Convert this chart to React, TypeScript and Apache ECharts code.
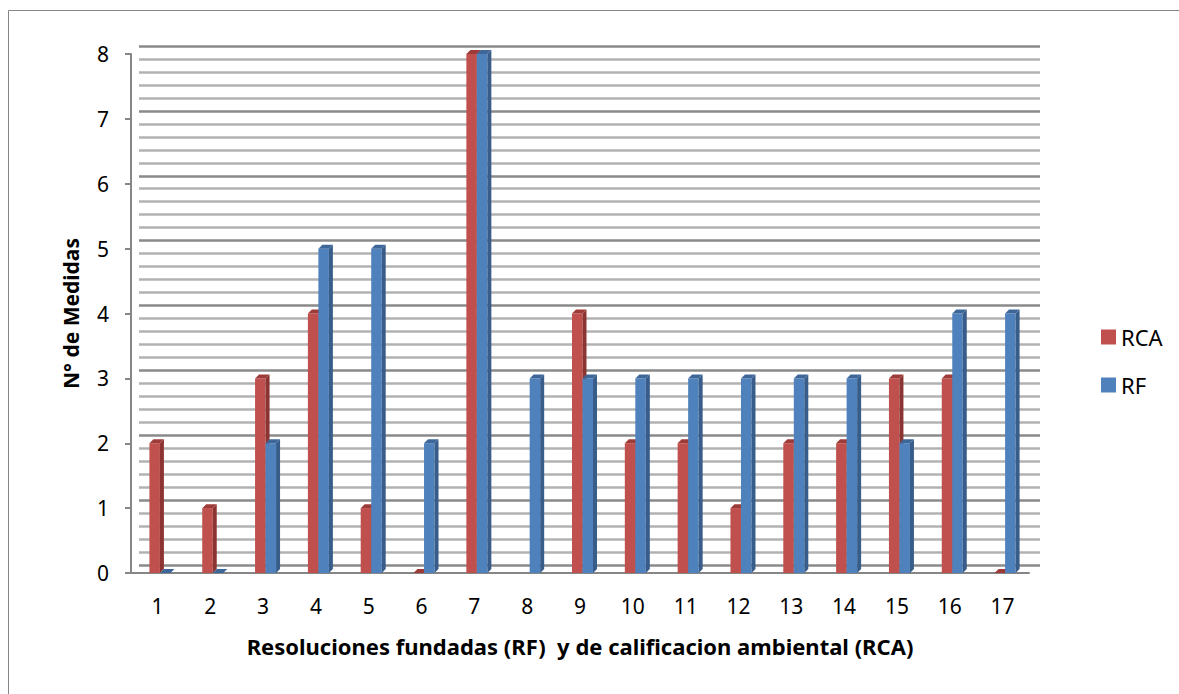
import React, { useEffect, useRef } from "react";
import * as echarts from "echarts";

const categories = ["1","2","3","4","5","6","7","8","9","10","11","12","13","14","15","16","17"];
const rcaValues: (number | null)[] = [2, 1, 3, 4, 1, 0, 8, null, 4, 2, 2, 1, 2, 2, 3, 3, 0];
const rfValues: number[] = [0, 0, 2, 5, 5, 2, 8, 3, 3, 3, 3, 3, 3, 3, 2, 4, 4];
const yTicks = { min: 0, max: 8, interval: 1 };

const FONT = "'Noto Sans', 'Open Sans', sans-serif";

function makeRender(offset: number, width: number, front: string, side: string, top: string) {
  const d = 4;
  return (params: any, api: any) => {
    const v = api.value(1);
    if (v === null || v === undefined || isNaN(v)) return null;
    const idx = api.value(0);
    const base = api.coord([idx, 0]);
    const tip = api.coord([idx, v]);
    const x0 = base[0] + offset;
    const x1 = x0 + width;
    const yb = base[1];
    const yt = tip[1];
    return {
      type: "group",
      children: [
        { type: "rect", shape: { x: x0, y: yt, width: width, height: Math.max(0, yb - yt) }, style: { fill: front } },
        { type: "polygon", shape: { points: [[x1, yt], [x1 + d, yt - d], [x1 + d, yb - d], [x1, yb]] }, style: { fill: side } },
        { type: "polygon", shape: { points: [[x0, yt], [x0 + d, yt - d], [x1 + d, yt - d], [x1, yt]] }, style: { fill: top } },
      ],
    };
  };
}

export default function App() {
  const ref = useRef<HTMLDivElement>(null);
  useEffect(() => {
    if (!ref.current) return;
    const chart = echarts.init(ref.current, null, { renderer: "svg" });
    const option: any = {
      animation: false,
      backgroundColor: "#ffffff",
      textStyle: { fontFamily: FONT },
      graphic: [
        {
          type: "rect",
          shape: { x: 8.5, y: 10.5, width: 1400, height: 900 },
          style: { fill: "none", stroke: "#868686", lineWidth: 1 },
          silent: true,
          z: -10,
        },
      ],
      legend: {
        orient: "vertical",
        left: 1096,
        top: 318,
        itemWidth: 15,
        itemHeight: 15,
        itemGap: 20,
        icon: "rect",
        textStyle: { fontSize: 22, color: "#000", fontFamily: FONT, lineHeight: 28 },
        data: ["RCA", "RF"],
      },
      grid: [
        { left: 131, right: 150, top: 54, bottom: 121 },
        { left: 139, right: 139, top: 46, bottom: 129 },
      ],
      xAxis: [
        {
          type: "category",
          gridIndex: 0,
          data: categories,
          axisLine: { show: true, lineStyle: { color: "#868686", width: 2 } },
          axisTick: { show: false },
          axisLabel: { fontSize: 21, color: "#000", margin: 22, fontFamily: FONT },
          name: "Resoluciones fundadas (RF)  y de calificacion ambiental (RCA)",
          nameLocation: "middle",
          nameGap: 62,
          nameMoveOverlap: false,
          nameTextStyle: { fontSize: 22, fontWeight: "bold", color: "#000", fontFamily: FONT },
          splitLine: { show: false },
        },
        {
          type: "category",
          gridIndex: 1,
          data: categories,
          axisLine: { show: false },
          axisTick: { show: false },
          axisLabel: { show: false },
          splitLine: { show: false },
        },
      ],
      yAxis: [
        {
          type: "value",
          gridIndex: 0,
          min: yTicks.min,
          max: yTicks.max,
          interval: yTicks.interval,
          axisLine: { show: true, lineStyle: { color: "#868686", width: 2 } },
          axisTick: { show: true, length: 6, lineStyle: { color: "#868686", width: 2 } },
          axisLabel: { fontSize: 21, color: "#000", margin: 22, fontFamily: FONT },
          splitLine: { show: false },
          name: "N° de Medidas",
          nameLocation: "middle",
          nameGap: 50,
          nameMoveOverlap: false,
          nameTextStyle: { fontSize: 21, fontWeight: "bold", color: "#000", fontFamily: FONT },
        },
        {
          type: "value",
          gridIndex: 1,
          min: yTicks.min,
          max: yTicks.max,
          interval: yTicks.interval,
          axisLine: { show: false },
          axisTick: { show: false },
          axisLabel: { show: false },
          minorTick: { show: false, splitNumber: 5 },
          splitLine: { show: true, lineStyle: { color: "#8a8a8a", width: 2.5 } },
          minorSplitLine: { show: true, lineStyle: { color: "#b2b2b2", width: 2.5 } },
        },
      ],
      series: [
        {
          name: "RCA",
          type: "custom",
          xAxisIndex: 0,
          yAxisIndex: 0,
          itemStyle: { color: "#C0504D" },
          renderItem: makeRender(-8, 10.5, "#C0504D", "#8C3431", "#9E3B38"),
          encode: { x: 0, y: 1 },
          data: rcaValues.map((v, i) => [i, v === null ? "-" : v]),
          z: 3,
        },
        {
          name: "RF",
          type: "custom",
          xAxisIndex: 0,
          yAxisIndex: 0,
          itemStyle: { color: "#4F81BD" },
          renderItem: makeRender(2.5, 10.5, "#4F81BD", "#385D8A", "#3E6799"),
          encode: { x: 0, y: 1 },
          data: rfValues.map((v, i) => [i, v]),
          z: 4,
        },
      ],
    };
    chart.setOption(option);
    return () => chart.dispose();
  }, []);
  return (
    <div
      ref={ref}
      style={{ position: "fixed", left: 0, top: 0, width: 1179, height: 694, background: "#fff" }}
    />
  );
}
